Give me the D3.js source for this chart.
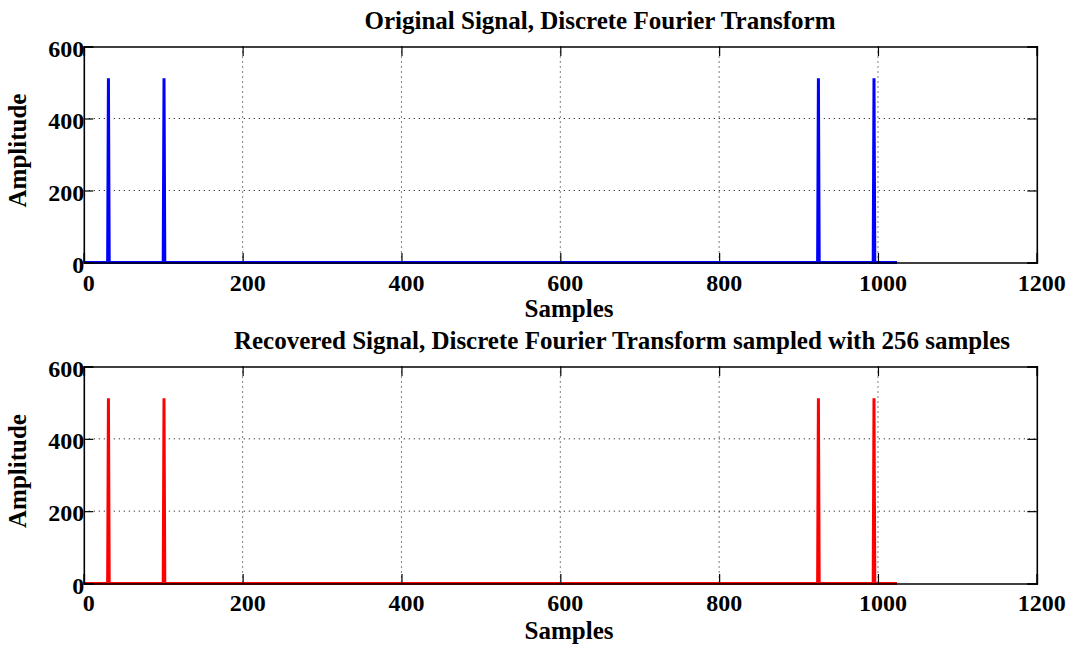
<!DOCTYPE html>
<html>
<head>
<meta charset="utf-8">
<script src="https://cdn.jsdelivr.net/npm/d3@7"></script>
<style>
  html, body { margin: 0; padding: 0; background: #ffffff; }
  svg { display: block; }
  text { font-family: "Liberation Serif", "Times New Roman", serif; font-weight: bold; fill: #000; }
</style>
</head>
<body>
<svg id="chart" width="1077" height="648"></svg>
<script>
// Magnitude spectra of a 1024-point DFT (bins numbered from 1)
const sampleCount = 1024;
const peakBins = [31, 101, 925, 995];
const originalPeaks = [512, 512, 512, 512];
const recoveredPeaks = [512, 512, 512, 512];

const xTicks = [0, 200, 400, 600, 800, 1000, 1200];
const yTicks = [0, 200, 400, 600];

const panels = [
  { title: "Original Signal, Discrete Fourier Transform", peaks: originalPeaks, color: "#0000ff",
    top: 46.5, bottom: 262.5, titleX: 600, titleY: 29, xlabelY: 316.5, ticklabelY: 291 },
  { title: "Recovered Signal, Discrete Fourier Transform sampled with 256 samples", peaks: recoveredPeaks, color: "#ff0000",
    top: 366.5, bottom: 583.5, titleX: 622, titleY: 349, xlabelY: 638.5, ticklabelY: 611 }
];

const left = 83.8, right = 1036.8;
const tickLen = 9.5;
const svg = d3.select("#chart");

function spectrum(peaks) {
  const lookup = new Map(peakBins.map((b, i) => [b, peaks[i]]));
  return d3.range(1, sampleCount + 1).map(k => ({ k, a: lookup.get(k) || 0 }));
}

panels.forEach(p => {
  const x = d3.scaleLinear().domain([0, 1200]).range([left, right]);
  const y = d3.scaleLinear().domain([0, 600]).range([p.bottom, p.top]);
  const g = svg.append("g");

  // dotted grid
  g.append("g").selectAll("line").data(xTicks.slice(1, -1)).join("line")
    .attr("x1", d => x(d)).attr("x2", d => x(d))
    .attr("y1", p.top).attr("y2", p.bottom)
    .attr("stroke", "#000").attr("stroke-width", 1).attr("stroke-dasharray", "1,4");
  g.append("g").selectAll("line").data(yTicks.slice(1, -1)).join("line")
    .attr("x1", left).attr("x2", right)
    .attr("y1", d => y(d)).attr("y2", d => y(d))
    .attr("stroke", "#000").attr("stroke-width", 1).attr("stroke-dasharray", "1,4");

  // spectrum trace
  const line = d3.line().x(d => x(d.k)).y(d => y(d.a));
  g.append("path").datum(spectrum(p.peaks))
    .attr("d", line).attr("fill", "none")
    .attr("stroke", p.color).attr("stroke-width", 3)
    .attr("stroke-linejoin", "miter");

  // axes with inward ticks on all four sides
  const axB = d3.axisBottom(x).tickValues(xTicks).tickSize(-tickLen).tickFormat("");
  const axT = d3.axisTop(x).tickValues(xTicks).tickSize(-tickLen).tickFormat("");
  const axL = d3.axisLeft(y).tickValues(yTicks).tickSize(-tickLen).tickFormat("");
  const axR = d3.axisRight(y).tickValues(yTicks).tickSize(-tickLen).tickFormat("");
  [[axB, `translate(0,${p.bottom})`], [axT, `translate(0,${p.top})`],
   [axL, `translate(${left},0)`], [axR, `translate(${right},0)`]].forEach(([ax, tr]) => {
    const a = g.append("g").attr("transform", tr).call(ax);
    a.select(".domain").attr("stroke", "#000").attr("stroke-width", 1.6);
    a.selectAll(".tick line").attr("stroke", "#000").attr("stroke-width", 1.2);
  });

  // tick labels
  g.append("g").selectAll("text").data(xTicks).join("text")
    .attr("x", d => x(d) + 5).attr("y", p.ticklabelY)
    .attr("text-anchor", "middle").attr("font-size", 24)
    .text(d => d);
  g.append("g").selectAll("text").data(yTicks).join("text")
    .attr("x", left + 0.5).attr("y", d => y(d) + 10)
    .attr("text-anchor", "end").attr("font-size", 24)
    .text(d => d);

  // titles and axis labels
  g.append("text").attr("x", p.titleX).attr("y", p.titleY)
    .attr("text-anchor", "middle").attr("font-size", 25).text(p.title);
  g.append("text").attr("x", 569).attr("y", p.xlabelY)
    .attr("text-anchor", "middle").attr("font-size", 25).text("Samples");
  g.append("text")
    .attr("transform", `translate(26,${(p.top + p.bottom) / 2 - 4}) rotate(-90)`)
    .attr("text-anchor", "middle").attr("font-size", 25).text("Amplitude");
});
</script>
</body>
</html>
